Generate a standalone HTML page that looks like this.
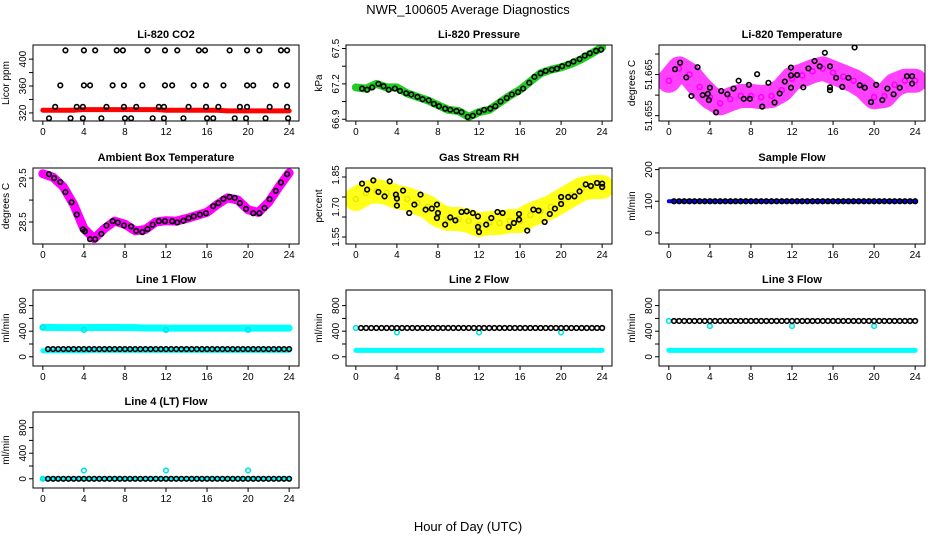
<!DOCTYPE html>
<html><head><meta charset="utf-8"><style>
body{margin:0;background:#fff;}
svg{display:block;font-family:"Liberation Sans",sans-serif;}
</style></head><body>
<svg id="c" width="936" height="540" viewBox="0 0 936 540" xmlns="http://www.w3.org/2000/svg">
<text x="468" y="14" text-anchor="middle" font-size="13">NWR_100605  Average Diagnostics</text>
<text x="468" y="531" text-anchor="middle" font-size="13">Hour of Day (UTC)</text>
</svg>
<script>
// ---- data ----
const xTicks = [0,4,8,12,16,20,24];
const co2Times = [2.2,4.0,5.1,7.2,7.8,10.2,11.9,13.1,15.2,15.8,18.2,19.9,21.1,23.2,23.8, 1.7,4.0,4.6,6.8,7.9,9.7,11.9,12.6,14.7,15.9,17.6,19.9,20.5,22.7,23.8, 1.2,3.3,3.9,6.2,7.9,9.1,11.3,11.8,14.2,15.9,17.1,19.2,19.9,22.1,23.8, 0.6,2.7,3.9,5.7,8.0,8.6,10.7,11.8,13.7,16.0,16.6,18.7,19.8,21.7,23.9];
const co2Values = [413,413,413,413,413,413,413,413,413,413,413,413,413,413,413, 361,361,361,361,361,361,361,361,361,361,361,361,361,361,361, 329,329,329,329,329,329,329,329,329,329,329,329,329,329,329, 312,312,312,312,312,312,312,312,312,312,312,312,312,312,312];
const hourly = [0,1,2,3,4,5,6,7,8,9,10,11,12,13,14,15,16,17,18,19,20,21,22,23,24];
const co2Red = [324,324,324,324,325,325,325,325,325,325,325,325,324,324,324,324,324,324,323,323,323,323,323,323,323];
const presTimes = [0.6,1.1,1.6,2.2,2.7,3.2,3.8,4.3,4.9,5.4,6.0,6.5,7.1,7.6,8.1,8.7,9.2,9.8,10.3,10.9,11.4,12.0,12.5,13.1,13.6,14.1,14.7,15.2,15.8,16.3,16.9,17.4,18.0,18.5,19.1,19.6,20.1,20.7,21.2,21.8,22.3,22.8,23.4,23.9];
const presValues = [67.16,67.15,67.17,67.2,67.18,67.15,67.16,67.14,67.12,67.11,67.09,67.07,67.06,67.03,67.01,66.99,66.98,66.97,66.96,66.92,66.93,66.96,66.98,66.99,67.01,67.05,67.08,67.11,67.13,67.16,67.21,67.26,67.29,67.31,67.32,67.33,67.35,67.37,67.39,67.41,67.44,67.46,67.48,67.49];
const presGreen = [67.17,67.16,67.2,67.17,67.17,67.12,67.09,67.06,67.02,66.98,66.97,66.92,66.96,66.98,67.04,67.1,67.15,67.22,67.29,67.32,67.34,67.37,67.41,67.46,67.51];
const tempTimes = [0.6,1.1,1.7,2.2,2.8,3.3,3.8,3.9,4.0,4.6,5.1,5.7,6.3,6.8,7.3,7.8,7.9,8.6,9.1,9.7,10.3,10.8,11.3,11.9,11.9,11.9,12.5,13.1,13.6,14.2,14.7,15.2,15.7,15.7,15.7,16.3,16.9,17.5,18.1,18.6,19.1,19.7,20.2,20.8,21.3,21.9,22.5,23.2,23.7,23.7];
const tempValues = [51.6663,51.6679,51.6643,51.6598,51.6668,51.66,51.6603,51.6588,51.6618,51.6558,51.661,51.6602,51.6616,51.6635,51.6591,51.6625,51.6591,51.6651,51.6572,51.663,51.6582,51.6604,51.6633,51.6667,51.6648,51.6618,51.6649,51.6619,51.6665,51.6683,51.667,51.6703,51.667,51.6619,51.6612,51.6642,51.662,51.6642,51.6716,51.6624,51.6618,51.6583,51.6625,51.6588,51.6616,51.6602,51.6618,51.6646,51.6628,51.6646];
const tempMagenta = [51.6635,51.6665,51.665,51.662,51.6595,51.658,51.659,51.6598,51.6598,51.6595,51.6598,51.6612,51.664,51.6648,51.6658,51.6665,51.6655,51.6645,51.6635,51.662,51.6595,51.6598,51.6625,51.6635,51.6635];
const ambTimes = [0.6,1.1,1.7,2.2,2.8,3.3,3.9,4.1,4.6,5.1,5.7,6.2,6.8,7.3,7.9,8.6,9.1,9.7,10.2,10.7,11.3,11.9,12.6,13.1,13.7,14.2,14.7,15.3,15.9,16.6,17.1,17.6,18.2,18.7,19.2,19.8,20.5,21.1,21.6,22.1,22.7,23.2,23.8];
const ambValues = [29.59,29.5,29.41,29.18,28.95,28.67,28.33,28.29,28.11,28.11,28.23,28.42,28.52,28.49,28.42,28.4,28.3,28.27,28.34,28.44,28.52,28.52,28.52,28.49,28.53,28.59,28.63,28.67,28.7,28.86,28.93,29.03,29.07,29.05,28.93,28.8,28.7,28.7,28.82,29.02,29.21,29.4,29.59];
const ambMagenta = [29.6,29.52,29.3,28.9,28.35,28.12,28.35,28.52,28.45,28.3,28.33,28.5,28.53,28.52,28.58,28.65,28.72,28.9,29.05,29.0,28.78,28.72,28.95,29.3,29.62];
const rhTimes = [0.6,1.1,1.7,2.2,2.8,3.3,3.9,4.0,4.0,4.6,5.2,5.7,6.3,6.8,7.4,7.9,7.9,8.0,8.7,9.2,9.7,10.3,10.8,11.4,11.9,11.9,12.0,12.7,13.2,13.8,14.3,14.9,15.4,15.9,15.9,16.7,17.3,17.8,18.4,18.9,19.4,20.0,20.0,20.7,21.3,21.8,22.4,22.9,23.5,24.0,24.0];
const rhValues = [1.817,1.787,1.833,1.775,1.753,1.828,1.762,1.742,1.707,1.782,1.67,1.712,1.762,1.687,1.692,1.712,1.645,1.67,1.612,1.648,1.633,1.675,1.678,1.67,1.653,1.6,1.575,1.612,1.645,1.675,1.67,1.6,1.62,1.665,1.637,1.582,1.687,1.682,1.625,1.665,1.692,1.715,1.75,1.75,1.753,1.778,1.813,1.805,1.82,1.817,1.8];
const rhYellow = [1.74,1.77,1.78,1.77,1.75,1.74,1.72,1.70,1.66,1.64,1.64,1.63,1.61,1.62,1.62,1.63,1.63,1.66,1.68,1.70,1.73,1.76,1.79,1.80,1.80];
const flowTimes = [0.5,1,1.5,2,2.5,3,3.5,4,4.5,5,5.5,6,6.5,7,7.5,8,8.5,9,9.5,10,10.5,11,11.5,12,12.5,13,13.5,14,14.5,15,15.5,16,16.5,17,17.5,18,18.5,19,19.5,20,20.5,21,21.5,22,22.5,23,23.5,24];
const sampleBlack = [100,100,100,100,100,100,100,100,100,100,100,100,100,100,100,100,100,100,100,100,100,100,100,100,100,100,100,100,100,100,100,100,100,100,100,100,100,100,100,100,100,100,100,100,100,100,100,100];
const sampleBlue = [100,100,100,100,100,100,100,100,100,100,100,100,100,100,100,100,100,100,100,100,100,100,100,100,100];
const line1Black = [120,120,120,120,120,120,120,120,120,120,120,120,120,120,120,120,120,120,120,120,120,120,120,120,120,120,120,120,120,120,120,120,120,120,120,120,120,120,120,120,120,120,120,120,120,120,120,120];
const line1CyanHi = [460,458,455,455,455,458,458,458,455,455,450,450,448,448,448,448,448,448,448,448,448,448,448,448,448];
const line1CyanLo = [95,95,95,95,95,100,100,100,100,100,100,100,100,100,100,100,100,100,100,100,100,100,100,100,100];
const line2Black = [450,450,450,450,450,450,450,450,450,450,450,450,450,450,450,450,450,450,450,450,450,450,450,450,450,450,450,450,450,450,450,450,450,450,450,450,450,450,450,450,450,450,450,450,450,450,450,450];
const line2CyanLo = [100,100,100,100,100,100,100,100,100,100,100,100,100,100,100,100,100,100,100,100,100,100,100,100,100];
const line3Black = [560,560,560,560,560,560,560,560,560,560,560,560,560,560,560,560,560,560,560,560,560,560,560,560,560,560,560,560,560,560,560,560,560,560,560,560,560,560,560,560,560,560,560,560,560,560,560,560];
const line3CyanLo = [100,100,100,100,100,100,100,100,100,100,100,100,100,100,100,100,100,100,100,100,100,100,100,100,100];
const line4Black = [0,0,0,0,0,0,0,0,0,0,0,0,0,0,0,0,0,0,0,0,0,0,0,0,0,0,0,0,0,0,0,0,0,0,0,0,0,0,0,0,0,0,0,0,0,0,0,0];
const line4CyanLo = [0,0,0,0,0,0,0,0,0,0,0,0,0,0,0,0,0,0,0,0,0,0,0,0,0];
const spikeTimes = [0,4,12,20];
const line1Spikes = [460,420,420,420];
const line2Spikes = [450,380,380,380];
const line3Spikes = [560,480,480,480];
const line4Spikes = [0,130,130,130];

const NS='http://www.w3.org/2000/svg';
const svg=document.getElementById('c');
const colL=[33,346,659], rowT=[45,168,290,412], PW=266, PH=76;

function mk(tag, attrs, parent){
  const el=document.createElementNS(NS,tag);
  for(const k in attrs) el.setAttribute(k,attrs[k]);
  parent.appendChild(el);
  return el;
}
function panel(col,row,key,title,ylab,y0,y1,ticks,labVals,labTexts){
  const p={left:colL[col],top:rowT[row],w:PW,h:PH,y0:y0,y1:y1};
  const g=mk('g',{},svg);
  
  
  p.g=g;
  p.sx=t=>p.left+(t+0.96)/25.92*p.w;
  p.sy=v=>p.top+p.h-(v-y0)/(y1-y0)*p.h;
  const clip=mk('clipPath',{id:'cl'+key},g);
  mk('rect',{x:p.left,y:p.top,width:p.w,height:p.h},clip);
  p.plot=mk('g',{'clip-path':'url(#cl'+key+')'},g);
  const t=mk('text',{x:p.left+p.w/2,y:p.top-7,'text-anchor':'middle','font-size':'11','font-weight':'bold'},g);
  t.textContent=title;
  
  
  const yl=mk('text',{transform:'translate('+(p.left-24)+','+(p.top+p.h/2)+') rotate(-90)','text-anchor':'middle','font-size':'10'},g);
  yl.textContent=ylab;
  
  
  const box=mk('rect',{x:p.left,y:p.top,width:p.w,height:p.h,fill:'none',stroke:'#000','stroke-width':1},g);
  
  
  xTicks.forEach(v=>{
    const x=p.sx(v);
    mk('line',{x1:x,x2:x,y1:p.top+p.h,y2:p.top+p.h+4,stroke:'#000'},g);
    const tl=mk('text',{x:x,y:p.top+p.h+14,'text-anchor':'middle','font-size':'10'},g);
    tl.textContent=v;
    
    
  });
  ticks.forEach(v=>{
    const y=p.sy(v);
    mk('line',{x1:p.left-4,x2:p.left,y1:y,y2:y,stroke:'#000'},g);
  });
  labVals.forEach((v,i)=>{
    const y=p.sy(v);
    const tl=mk('text',{transform:'translate('+(p.left-7)+','+y+') rotate(-90)','text-anchor':'middle','font-size':'10'},g);
    tl.textContent=labTexts[i];
    
    
  });
  return p;
}
function band(p,times,vals,color,w,name,op){
  const pts=times.map((t,i)=>p.sx(t)+','+p.sy(vals[i])).join(' ');
  const el=mk('polyline',{points:pts,fill:'none',stroke:color,'stroke-width':w,'stroke-linejoin':'round','stroke-linecap':'round',opacity:op||1},p.plot);
  
  
}
function pts(p,times,vals,color,name,r){
  times.forEach((t,i)=>{
    const el=mk('circle',{cx:p.sx(t),cy:p.sy(vals[i]),r:r||2.3,fill:'none',stroke:color,'stroke-width':1.6},p.plot);
    
    
  });
}

// CO2
let p=panel(0,0,'co2','Li-820 CO2','Licor ppm',308,421,[320,340,360,380,400],[320,360,400],['320','360','400']);
band(p,hourly,co2Red,'#ff0000',5,'co2-red-series');
pts(p,co2Times,co2Values,'#000','co2-point');
// Pressure
p=panel(1,0,'pressure','Li-820 Pressure','kPa',66.885,67.53,[66.9,67.05,67.2,67.35,67.5],[66.9,67.2,67.5],['66.9','67.2','67.5']);
band(p,hourly,presGreen,'#22cc22',8,'pressure-green-series');
pts(p,presTimes,presValues,'#000','pressure-point');
// Li temp
p=panel(2,0,'li-temp','Li-820 Temperature','degrees C',51.6537,51.6722,[51.655,51.66,51.665,51.67],[51.655,51.665],['51.655','51.665']);
band(p,hourly,tempMagenta,'#ff00ff',24,'li-temp-magenta-series',0.75);
pts(p,hourly,tempMagenta,'#ff00ff','li-temp-magenta-point',2.5);
pts(p,tempTimes,tempValues,'#000','li-temp-point');
// Ambient
p=panel(0,1,'ambient','Ambient Box Temperature','degrees C',28.0,29.73,[28.5,29.0,29.5],[28.5,29.5],['28.5','29.5']);
band(p,hourly,ambMagenta,'#ff00ff',9,'ambient-magenta-series');
pts(p,ambTimes,ambValues,'#000','ambient-point');
// RH
p=panel(1,1,'rh','Gas Stream RH','percent',1.515,1.895,[1.55,1.65,1.75,1.85],[1.55,1.70,1.86],['1.55','1.70','1.85']);
band(p,hourly,rhYellow,'#ffff00',24,'rh-yellow-series',0.9);
pts(p,hourly,rhYellow,'#e8e800','rh-yellow-point',2.5);
pts(p,rhTimes,rhValues,'#000','rh-point');
// Sample flow
p=panel(2,1,'sample-flow','Sample Flow','ml/min',-35,205,[0,100,200],[0,100,200],['0','100','200']);
band(p,hourly,sampleBlue,'#0000ff',4,'sample-flow-blue-series');
pts(p,flowTimes,sampleBlack,'#000','sample-flow-point');
// Line flows
const fT=[0,200,400,600,800], fV=[0,400,800], fL=['0','400','800'];
p=panel(0,2,'line1','Line 1 Flow','ml/min',-144,1044,fT,fV,fL);
band(p,hourly,line1CyanHi,'#00ffff',7,'line1-cyan-high-series');
band(p,hourly,line1CyanLo,'#00ffff',5,'line1-cyan-low-series');
pts(p,spikeTimes,line1Spikes,'#00e5e5','line1-cyan-point');
pts(p,flowTimes,line1Black,'#000','line1-point');
p=panel(1,2,'line2','Line 2 Flow','ml/min',-144,1044,fT,fV,fL);
band(p,hourly,line2CyanLo,'#00ffff',5,'line2-cyan-low-series');
pts(p,spikeTimes,line2Spikes,'#00e5e5','line2-cyan-point');
pts(p,flowTimes,line2Black,'#000','line2-point');
p=panel(2,2,'line3','Line 3 Flow','ml/min',-144,1044,fT,fV,fL);
band(p,hourly,line3CyanLo,'#00ffff',5,'line3-cyan-low-series');
pts(p,spikeTimes,line3Spikes,'#00e5e5','line3-cyan-point');
pts(p,flowTimes,line3Black,'#000','line3-point');
p=panel(0,3,'line4','Line 4 (LT) Flow','ml/min',-144,1044,fT,fV,fL);
band(p,hourly,line4CyanLo,'#00ffff',4,'line4-cyan-low-series');
pts(p,spikeTimes,line4Spikes,'#00e5e5','line4-cyan-point');
pts(p,flowTimes,line4Black,'#000','line4-point');
</script>
</body></html>
